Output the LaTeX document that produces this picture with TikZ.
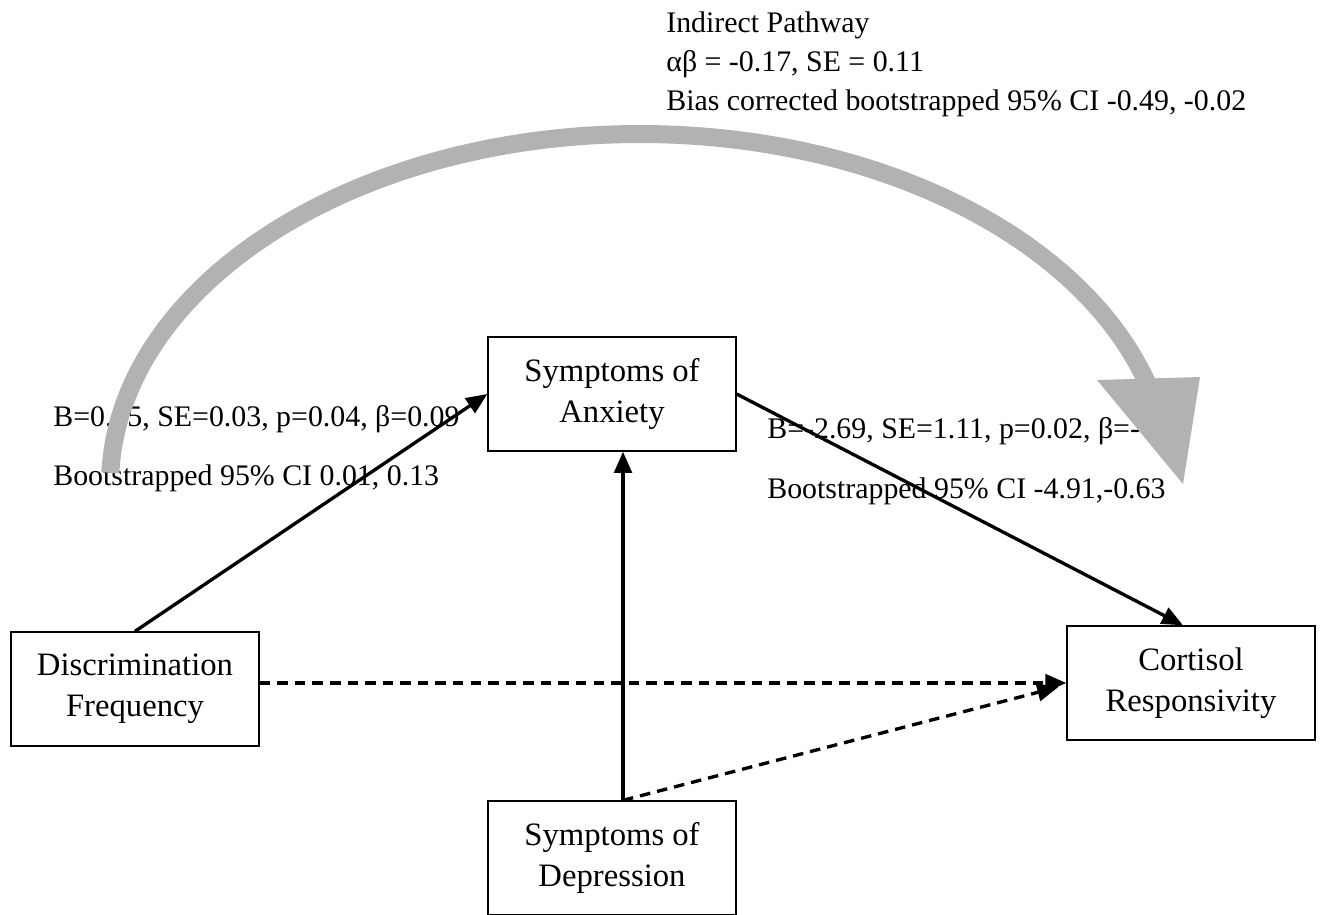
\documentclass[tikz,border=0pt]{standalone}
\usepackage{fontspec}
\setmainfont{Liberation Serif}
\usetikzlibrary{arrows.meta,calc}

\begin{document}
\begin{tikzpicture}[x=0.02cm, y=-0.02cm,
    box/.style={draw, line width=0.8pt, minimum width=4.96cm, minimum height=2.28cm,
        align=center, font=\fontsize{18.6}{23.4}\selectfont},
    stat/.style={anchor=base west, inner sep=0pt, font=\fontsize{17}{20}\selectfont},
    sigpath/.style={line width=1.9pt, -{Triangle[length=12pt, width=10pt]}},
    nspath/.style={sigpath, dash pattern=on 6pt off 4pt}]

% Define colors
\definecolor{arccolor}{RGB}{178,178,178}

\useasboundingbox (0,0) rectangle (1321,914);
\clip (0,0) rectangle (1321,914);

% Variables
\node[box] (anx) at (612,394) {Symptoms of\\Anxiety};
\node[box] (disc) at (135,689) {Discrimination\\Frequency};
\node[box] (cort) at (1191,683) {Cortisol\\Responsivity};
\node[box] (dep) at (612,858) {Symptoms of\\Depression};

% Path estimates
\node[stat] (effA) at (53,426) {B=0.05, SE=0.03, p=0.04, β=0.09};
\node[stat] (ciA) at (53,485) {Bootstrapped 95\% CI 0.01, 0.13};
\node[stat] (effB) at (767,438) {B=-2.69, SE=1.11, p=0.02, β=-};
\node[stat] (ciB) at (767,498) {Bootstrapped 95\% CI -4.91,-0.63};

% Indirect pathway text
\node[stat] (ind1) at (666,32) {Indirect Pathway};
\node[stat] (ind2) at (666,71) {αβ = -0.17, SE = 0.11};
\node[stat] (ind3) at (666,110) {Bias corrected bootstrapped 95\% CI -0.49, -0.02};

% Connectors
\coordinate (depTop) at ($(dep.north)+(11,0)$);
\draw[sigpath] (disc.north) -- (anx.west);
\draw[sigpath] (anx.east) -- ($(cort.north)+(-8,0)$);
\draw[sigpath] (depTop) -- (depTop |- anx.south);
\draw[nspath] (disc.east |- cort.west) -- (cort.west);
\draw[nspath] (depTop) -- ($(cort.west)+(-8,4)$);

% Big gray arrow
\draw[line width=0.36cm, arccolor] (640,485) ++(182:530 and 351)
    arc[start angle=182, end angle=345, x radius=530, y radius=351];
\fill[arccolor] (1097,380) -- (1200,377) -- (1183,484) -- cycle;

\end{tikzpicture}
\end{document}
